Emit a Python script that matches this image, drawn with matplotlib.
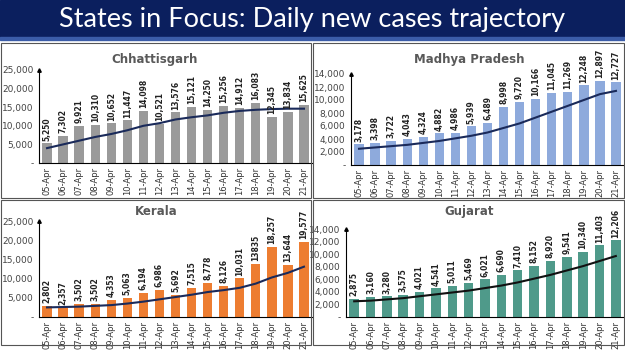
import matplotlib.pyplot as plt
from matplotlib.patches import Rectangle

dates = ["05-Apr", "06-Apr", "07-Apr", "08-Apr", "09-Apr", "10-Apr", "11-Apr", "12-Apr",
         "13-Apr", "14-Apr", "15-Apr", "16-Apr", "17-Apr", "18-Apr", "19-Apr", "20-Apr", "21-Apr"]

chh_cases = [5250, 7302, 9921, 10310, 10652, 11447, 14098, 10521, 13576, 15121, 14250,
             15256, 14912, 16083, 12345, 13834, 15625]
chh_trend = [4000, 5000, 6000, 7000, 7800, 8800, 10000, 10700, 11700, 12300, 12800,
             13500, 14000, 14300, 14500, 14600, 14600]

mp_cases = [3178, 3398, 3722, 4043, 4324, 4882, 4986, 5939, 6489, 8998, 9720,
            10166, 11045, 11269, 12248, 12897, 12727]
mp_trend = [2500, 2700, 2900, 3100, 3400, 3700, 4100, 4500, 5000, 5700, 6400,
            7300, 8200, 9100, 10000, 10900, 11400]

ker_cases = [2802, 2357, 3502, 3502, 4353, 5063, 6194, 6986, 5692, 7515, 8778,
             8126, 10031, 13835, 18257, 13644, 19577]
ker_labels = ["2,802", "2,357", "3,502", "3,502", "4,353", "5,063", "6,194", "6,986", "5,692",
              "7,515", "8,778", "8,126", "10,031", "13835", "18,257", "13,644", "19,577"]
ker_trend = [2500, 2600, 2700, 2900, 3100, 3500, 4000, 4600, 5200, 5800, 6500,
             7000, 7600, 8700, 10300, 11500, 13100]

guj_cases = [2875, 3160, 3280, 3575, 4021, 4541, 5011, 5469, 6021, 6690, 7410,
             8152, 8920, 9541, 10340, 11403, 12206]
guj_trend = [2500, 2600, 2800, 3000, 3300, 3600, 3900, 4200, 4600, 5000, 5500,
             6100, 6700, 7400, 8100, 8900, 9700]

W, H = 625, 351
fig = plt.figure(figsize=(W / 100, H / 100), dpi=100)

# title banner
fig.patches.append(Rectangle((0, 1 - 37 / H), 1, 37 / H, transform=fig.transFigure,
                             color="#0b1f5e", zorder=0))
fig.patches.append(Rectangle((0, 1 - 40 / H), 1, 3 / H, transform=fig.transFigure,
                             color="#3b5ca8", zorder=0))
fig.text(0.5, 1 - 19 / H, "States in Focus: Daily new cases trajectory", color="white",
         fontsize=19.5, ha="center", va="center", family="Lato")


# panel borders
def box(x0, y0, x1, y1):
    fig.patches.append(Rectangle((x0 / W, 1 - y1 / H), (x1 - x0) / W, (y1 - y0) / H,
                                 transform=fig.transFigure, fill=False,
                                 edgecolor="#555555", lw=0.8, zorder=0))


box(1, 43, 311, 198)
box(313, 43, 624, 198)
box(1, 200, 311, 345)
box(313, 200, 624, 345)


def panel(rect, cases, trend, ymax, step, color, line_color, labels=None):
    x0, y_top, x1, y_bot = rect
    ax = fig.add_axes([x0 / W, 1 - y_bot / H, (x1 - x0) / W, (y_bot - y_top) / H])
    x = range(len(dates))
    ax.bar(x, cases, width=0.58, color=color, zorder=2)
    ax.plot(x, trend, color=line_color, lw=1.5, zorder=3)
    if labels is None:
        labels = [f"{v:,}" for v in cases]
    for i, v in enumerate(cases):
        ax.text(i, v + ymax * 0.03, labels[i], rotation=90, ha="center", va="bottom",
                fontsize=5.5, fontweight="bold", color="#222222", clip_on=False)
    ax.set_xlim(-0.5, len(dates) - 0.5)
    ax.set_ylim(0, ymax)
    ticks = list(range(0, ymax + 1, step))
    ax.set_yticks(ticks)
    ax.set_yticklabels(["-"] + [f"{t:,}" for t in ticks[1:]])
    ax.set_xticks(list(x))
    ax.set_xticklabels(dates, rotation=90)
    ax.tick_params(axis="y", length=0, labelsize=6.5, colors="#444444", pad=4)
    ax.tick_params(axis="x", length=0, labelsize=6, colors="#333333", pad=3)
    for s in ["top", "right"]:
        ax.spines[s].set_visible(False)
    ax.spines["left"].set_color("black")
    ax.spines["bottom"].set_color("black")
    ax.plot(0, 1, "^", color="black", markersize=2.5, transform=ax.transAxes, clip_on=False)
    ax.set_facecolor("none")
    return ax


panel((39, 70, 312, 163), chh_cases, chh_trend, 25000, 5000, "#9a9a9a", "#1a2a5a")
panel((351, 74, 624, 165), mp_cases, mp_trend, 14000, 2000, "#8eaadc", "#1a2a5a")
panel((39, 221, 312, 317), ker_cases, ker_trend, 25000, 5000, "#ed7d31", "#1a2a5a",
      ker_labels)
panel((346, 229, 624, 317), guj_cases, guj_trend, 14000, 2000, "#4f9a8a", "#111111")

for tx, ty, t in [(155, 59, "Chhattisgarh"), (469, 59, "Madhya Pradesh"),
                  (156, 211, "Kerala"), (469, 211, "Gujarat")]:
    fig.text(tx / W, 1 - ty / H, t, ha="center", va="center", fontsize=8.5,
             fontweight="bold", color="#595959")

fig.savefig("out.png", dpi=100)
